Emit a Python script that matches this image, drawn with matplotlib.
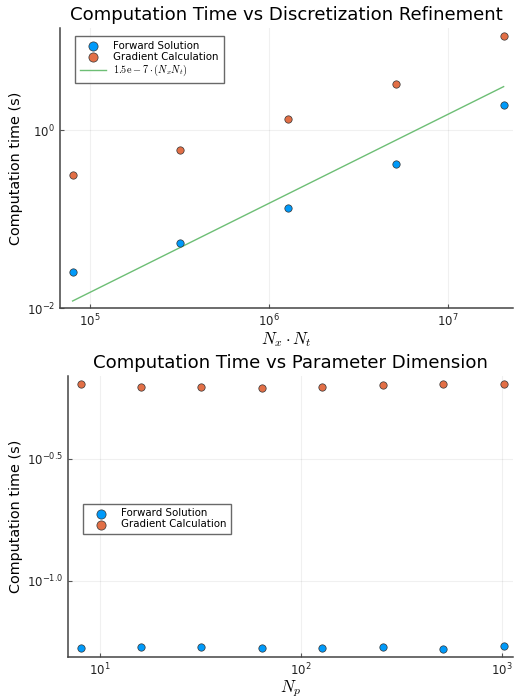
import numpy as np
import matplotlib
matplotlib.use("Agg")
import matplotlib.pyplot as plt
from matplotlib.ticker import FixedLocator, FuncFormatter, NullLocator

plt.rcParams['mathtext.fontset'] = 'dejavusans'
plt.rcParams['font.family'] = ['DejaVu Sans']

# Data: discretization refinement
nxnt = [8.0e4, 3.2e5, 1.28e6, 5.12e6, 2.048e7]
fwd_disc = [0.0252, 0.0533, 0.132, 0.415, 1.89]
grad_disc = [0.312, 0.601, 1.32, 3.26, 11.5]
fit_coef = 1.5e-7

# Data: parameter dimension
n_p = [8, 16, 32, 64, 128, 256, 512, 1024]
fwd_par = [0.0528, 0.0533, 0.0535, 0.0527, 0.0528, 0.0533, 0.0526, 0.0537]
grad_par = [0.644, 0.627, 0.624, 0.618, 0.625, 0.636, 0.641, 0.643]

blue = '#009AFA'
orange = '#E26F46'
green = '#6DBE75'

fig = plt.figure(figsize=(5.14, 6.98), dpi=100)
ax1 = fig.add_axes([0.1167, 0.5583, 0.8813, 0.4016])
ax2 = fig.add_axes([0.1329, 0.0592, 0.8651, 0.4021])

def style(ax):
    for s in ['top', 'right']:
        ax.spines[s].set_visible(False)
    for s in ['left', 'bottom']:
        ax.spines[s].set_linewidth(1.1)
        ax.spines[s].set_color('#444444')
    ax.grid(True, color='black', alpha=0.06, linewidth=0.8)
    ax.tick_params(which='major', direction='in', length=3, width=0.8, color='#555555',
                   labelsize=8.5, labelcolor='#222222')
    ax.xaxis.set_minor_locator(NullLocator())
    ax.yaxis.set_minor_locator(NullLocator())

ms = 28
ax1.scatter(nxnt, fwd_disc, s=ms, c=blue, edgecolors='#333333', linewidths=0.5, label='Forward Solution', zorder=3)
ax1.scatter(nxnt, grad_disc, s=ms, c=orange, edgecolors='#333333', linewidths=0.5, label='Gradient Calculation', zorder=3)
xx = np.array(nxnt)
ax1.plot(xx, fit_coef * xx, color=green, linewidth=1.0, label=r'$1.5\mathrm{e}-7\cdot(N_xN_t)$', zorder=2)
ax1.set_xscale('log')
ax1.set_yscale('log')
ax1.set_xlim(6.8e4, 2.31e7)
ax1.set_ylim(0.00993, 14.0)
style(ax1)
ax1.xaxis.set_major_locator(FixedLocator([1e5, 1e6, 1e7]))
ax1.yaxis.set_major_locator(FixedLocator([1e-2, 1e0]))
ax1.xaxis.set_major_formatter(FuncFormatter(lambda v, p: r'$10^{%d}$' % round(np.log10(v))))
ax1.yaxis.set_major_formatter(FuncFormatter(lambda v, p: r'$10^{%d}$' % round(np.log10(v))))
ax1.set_title('Computation Time vs Discretization Refinement', fontsize=13.1, pad=6)
ax1.set_xlabel(r'$N_x\cdot N_t$', fontsize=12, labelpad=0, math_fontfamily='cm')
ax1.set_ylabel('Computation time (s)', fontsize=10.4, labelpad=3)
leg1 = ax1.legend(loc='upper left', bbox_to_anchor=(0.033, 0.97), fontsize=7.4, frameon=True, fancybox=False,
                  edgecolor='#444444', borderpad=0.45, labelspacing=0.1, handlelength=2.6, handletextpad=0.7,
                  borderaxespad=0, markerscale=1.25)
leg1.get_frame().set_linewidth(1.0)
leg1.get_texts()[2].set_math_fontfamily('cm')

ax2.scatter(n_p, fwd_par, s=ms, c=blue, edgecolors='#333333', linewidths=0.5, label='Forward Solution', zorder=3)
ax2.scatter(n_p, grad_par, s=ms, c=orange, edgecolors='#333333', linewidths=0.5, label='Gradient Calculation', zorder=3)
ax2.set_xscale('log')
ax2.set_yscale('log')
ax2.set_xlim(6.95, 1140)
ax2.set_ylim(0.0487, 0.693)
style(ax2)
ax2.xaxis.set_major_locator(FixedLocator([1e1, 1e2, 1e3]))
ax2.yaxis.set_major_locator(FixedLocator([10 ** -1.0, 10 ** -0.5]))
ax2.xaxis.set_major_formatter(FuncFormatter(lambda v, p: r'$10^{%d}$' % round(np.log10(v))))
ax2.yaxis.set_major_formatter(FuncFormatter(lambda v, p: r'$10^{%.1f}$' % np.log10(v)))
ax2.set_title('Computation Time vs Parameter Dimension', fontsize=13.1, pad=6)
ax2.set_xlabel(r'$N_p$', fontsize=12, labelpad=0, math_fontfamily='cm')
ax2.set_ylabel('Computation time (s)', fontsize=10.4, labelpad=3)
leg2 = ax2.legend(loc='upper left', bbox_to_anchor=(0.032, 0.545), fontsize=7.4, frameon=True, fancybox=False,
                  edgecolor='#444444', borderpad=0.45, labelspacing=0.1, handlelength=2.6, handletextpad=0.7,
                  borderaxespad=0, markerscale=1.25)
leg2.get_frame().set_linewidth(1.0)

fig.savefig('out.png', dpi=100)
